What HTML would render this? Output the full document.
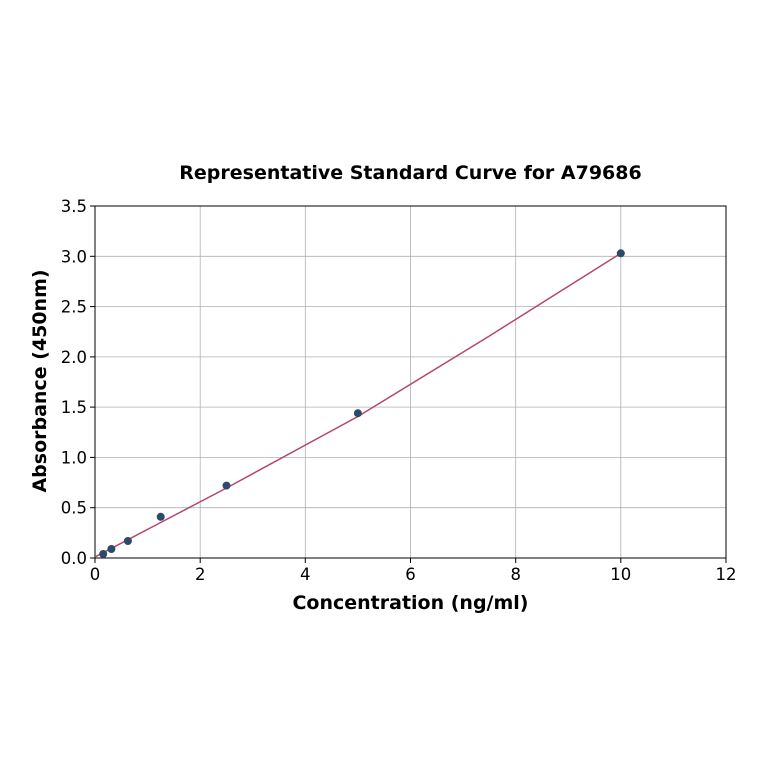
<!DOCTYPE html>
<html><head><meta charset="utf-8"><style>body{margin:0;background:#fff}</style></head><body>
<svg width="764" height="764" xmlns="http://www.w3.org/2000/svg" font-family="DejaVu Sans, Liberation Sans, sans-serif">
<rect width="764" height="764" fill="#fff"/>
<g stroke="#b0b0b0" stroke-width="0.8">
<line x1="200.2" y1="206" x2="200.2" y2="558"/><line x1="305.3" y1="206" x2="305.3" y2="558"/>
<line x1="410.5" y1="206" x2="410.5" y2="558"/><line x1="515.7" y1="206" x2="515.7" y2="558"/>
<line x1="620.8" y1="206" x2="620.8" y2="558"/>
<line x1="95" y1="507.7" x2="726" y2="507.7"/><line x1="95" y1="457.4" x2="726" y2="457.4"/>
<line x1="95" y1="407.1" x2="726" y2="407.1"/><line x1="95" y1="356.9" x2="726" y2="356.9"/>
<line x1="95" y1="306.6" x2="726" y2="306.6"/><line x1="95" y1="256.3" x2="726" y2="256.3"/>
</g>
<rect x="95" y="206" width="631" height="352" fill="none" stroke="#000" stroke-width="1"/>
<g stroke="#000"><line x1="95" y1="558" x2="95" y2="563"/><line x1="200.2" y1="558" x2="200.2" y2="563"/><line x1="305.3" y1="558" x2="305.3" y2="563"/><line x1="410.5" y1="558" x2="410.5" y2="563"/><line x1="515.7" y1="558" x2="515.7" y2="563"/><line x1="620.8" y1="558" x2="620.8" y2="563"/><line x1="726" y1="558" x2="726" y2="563"/>
<line x1="90" y1="558" x2="95" y2="558"/><line x1="90" y1="507.7" x2="95" y2="507.7"/><line x1="90" y1="457.4" x2="95" y2="457.4"/><line x1="90" y1="407.1" x2="95" y2="407.1"/><line x1="90" y1="356.9" x2="95" y2="356.9"/><line x1="90" y1="306.6" x2="95" y2="306.6"/><line x1="90" y1="256.3" x2="95" y2="256.3"/><line x1="90" y1="206" x2="95" y2="206"/></g>
<g font-size="16.5" text-anchor="middle" fill="#000">
<text x="95" y="580">0</text><text x="200.2" y="580">2</text><text x="305.3" y="580">4</text><text x="410.5" y="580">6</text><text x="515.7" y="580">8</text><text x="620.8" y="580">10</text><text x="726" y="580">12</text></g>
<g font-size="16.5" text-anchor="end" fill="#000">
<text x="87" y="564">0.0</text><text x="87" y="513.7">0.5</text><text x="87" y="463.4">1.0</text><text x="87" y="413.1">1.5</text><text x="87" y="362.9">2.0</text><text x="87" y="312.6">2.5</text><text x="87" y="262.3">3.0</text><text x="87" y="212">3.5</text></g>
<text x="410.5" y="179" font-size="19" font-weight="bold" text-anchor="middle">Representative Standard Curve for A79686</text>
<text x="410.5" y="609" font-size="19" font-weight="bold" text-anchor="middle">Concentration (ng/ml)</text>
<text transform="translate(46,381) rotate(-90)" font-size="19" font-weight="bold" text-anchor="middle">Absorbance (450nm)</text>
<polyline fill="none" stroke="#b5476a" stroke-width="1.5" points="95,557 103.2,552.7 111.4,548.3 127.9,539.7 160.7,522.5 226.5,488 357.9,416.5 489.4,336 620.8,253.3"/>
<g fill="#2d4a6b"><circle cx="103.2" cy="554" r="4"/><circle cx="111.4" cy="549" r="4"/><circle cx="127.9" cy="541" r="4"/><circle cx="160.7" cy="516.8" r="4"/><circle cx="226.5" cy="485.6" r="4"/><circle cx="357.9" cy="413.2" r="4"/><circle cx="620.8" cy="253.3" r="4"/></g>
</svg>
</body></html>
